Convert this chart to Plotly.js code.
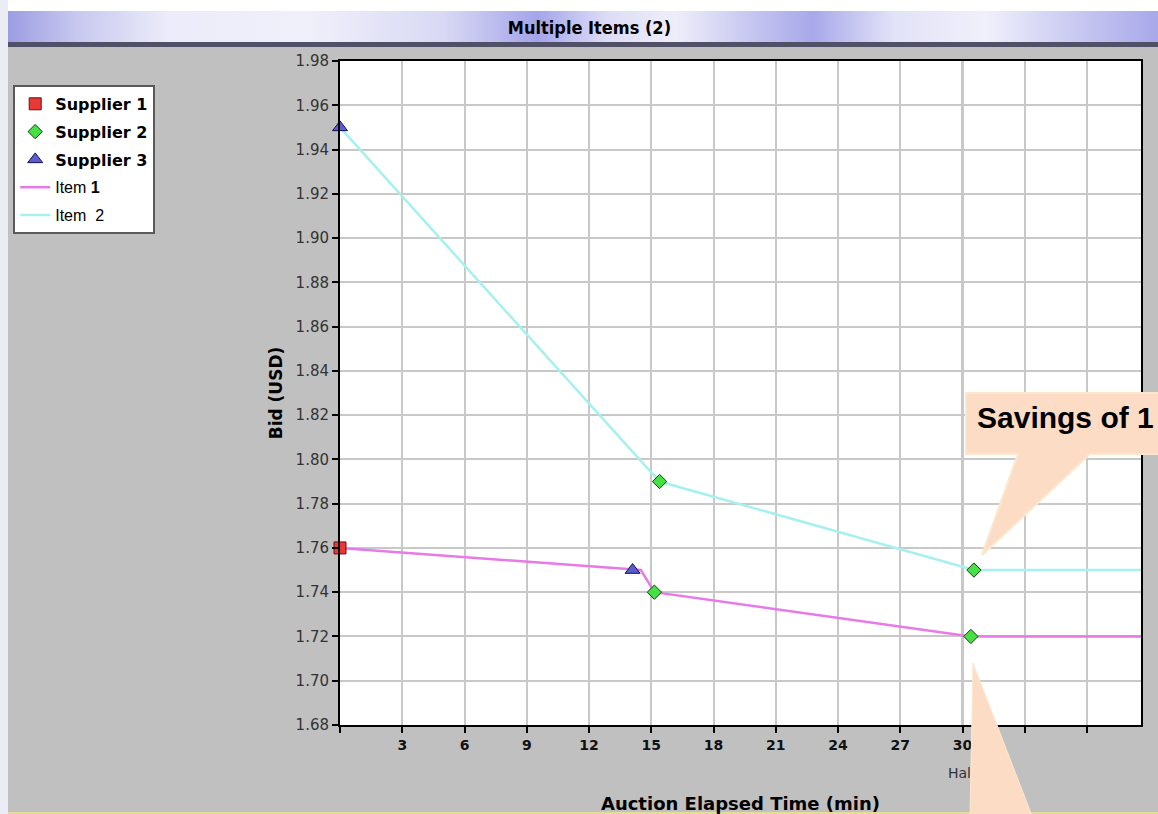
<!DOCTYPE html>
<html>
<head>
<meta charset="utf-8">
<script src="https://cdn.plot.ly/plotly-3.0.1.min.js"></script>
<style>
  html, body { margin: 0; padding: 0; background: #ffffff; }
  #wrap { position: relative; width: 1158px; height: 814px; overflow: hidden; background: #ffffff; }
  .layer { position: absolute; }
  #chart { position: absolute; left: 0; top: 0; width: 1158px; height: 814px; }
  #overlay { position: absolute; left: 0; top: 0; pointer-events: none; }
</style>
</head>
<body>
<div id="wrap">
  <div class="layer" style="left:0;top:0;width:8px;height:814px;background:#ececf4;"></div>
  <div class="layer" style="left:8px;top:11px;width:1150px;height:31px;background:linear-gradient(to right,#9c9ce2 0%,#c8c8f0 6%,#ececfa 14%,#f0f0fb 26%,#d8d8f4 38%,#a4a4ea 46%,#dcdcf6 52%,#eeeefa 58%,#c4c4f0 65%,#a8a8ea 70%,#e2e2f8 77%,#f0f0fb 85%,#c8c8f2 93%,#a8a8ea 100%);"></div>
  <div class="layer" style="left:8px;top:42px;width:1150px;height:5px;background:#505066;"></div>
  <div class="layer" style="left:8px;top:47px;width:1150px;height:765px;background:#c0c0c0;"></div>
  <div class="layer" style="left:8px;top:812px;width:1150px;height:2px;background:#e6dc9a;"></div>
  <div id="chart"></div>
  <svg id="overlay" width="1158" height="814" xmlns="http://www.w3.org/2000/svg">
    <path d="M966,393 L1170,393 L1170,454 L1090,454 L982,555 L1018,454 L966,454 Z" fill="#fddcc5" stroke="#fbe8cc" stroke-width="2"/>
    <text x="977" y="428" font-family="Liberation Sans, Arial, sans-serif" font-weight="bold" font-size="30" fill="#000000">Savings of 1</text>
    <path d="M973,663 L1032,816 L970,816 Z" fill="#fddcc5" stroke="#fbe8cc" stroke-width="1"/>
  </svg>
</div>
<script>
// ---- data ----
const supplier1X = [0];
const supplier1Y = [1.76];
const supplier2X = [15.15, 15.4, 30.4, 30.55];
const supplier2Y = [1.74, 1.79, 1.72, 1.75];
const supplier3X = [0, 14.1];
const supplier3Y = [1.95, 1.75];
const item1X = [0, 14.5, 15.15, 30.4, 38.6];
const item1Y = [1.76, 1.75, 1.74, 1.72, 1.72];
const item2X = [0, 15.4, 30.55, 38.6];
const item2Y = [1.95, 1.79, 1.75, 1.75];
const xTickVals = [0, 3, 6, 9, 12, 15, 18, 21, 24, 27, 30, 33, 36];
const xTickText = ['', '3', '6', '9', '12', '15', '18', '21', '24', '27', '30', '', ''];
const yTickVals = [1.68, 1.70, 1.72, 1.74, 1.76, 1.78, 1.80, 1.82, 1.84, 1.86, 1.88, 1.90, 1.92, 1.94, 1.96, 1.98];
const haltX = 30;
const haltLabel = 'Halt';
const chartTitle = 'Multiple Items (2)';
const xTitle = 'Auction Elapsed Time (min)';
const yTitle = 'Bid (USD)';

const itemFont = 'font-family:Liberation Sans, Arial, sans-serif;font-weight:normal';

const traces = [
  { x: item1X, y: item1Y, mode: 'lines', name: '<span style="' + itemFont + '">Item <b>1</b></span>',
    line: { color: '#e87ae8', width: 2.5 }, legendgroup: 'g4', legendrank: 4, cliponaxis: false },
  { x: item2X, y: item2Y, mode: 'lines', name: '<span style="' + itemFont + '">Item\u00a0\u00a02</span>',
    line: { color: '#a6f0f0', width: 2.5 }, legendgroup: 'g5', legendrank: 5, cliponaxis: false },
  { x: supplier1X, y: supplier1Y, mode: 'markers', name: '<b>Supplier 1</b>',
    marker: { symbol: 'square', size: 12, color: '#e83838', line: { color: '#6a1010', width: 1 } },
    legendgroup: 'g1', legendrank: 1, cliponaxis: false },
  { x: supplier2X, y: supplier2Y, mode: 'markers', name: '<b>Supplier 2</b>',
    marker: { symbol: 'diamond', size: 11, color: '#44e044', line: { color: '#1a3a1a', width: 1 } },
    legendgroup: 'g2', legendrank: 2, cliponaxis: false },
  { x: supplier3X, y: supplier3Y, mode: 'markers', name: '<b>Supplier 3</b>',
    marker: { symbol: 'triangle-up', size: 13, color: '#5c5cd0', line: { color: '#101050', width: 1 } },
    legendgroup: 'g3', legendrank: 3, cliponaxis: false }
];

const layout = {
  width: 1158, height: 814,
  margin: { l: 340, r: 17, t: 61, b: 89, pad: 0 },
  paper_bgcolor: 'rgba(0,0,0,0)',
  plot_bgcolor: '#ffffff',
  showlegend: true,
  title: {
    text: '<b>' + chartTitle + '</b>',
    font: { family: 'DejaVu Sans Condensed, DejaVu Sans, sans-serif', size: 18, color: '#000000' },
    xref: 'container', x: 0.509, xanchor: 'center',
    yref: 'container', y: 1 - 28 / 814, yanchor: 'middle'
  },
  legend: {
    x: -0.408, xanchor: 'left', y: 0.964, yanchor: 'top',
    bgcolor: '#ffffff', bordercolor: '#5a5a5a', borderwidth: 2,
    font: { family: 'DejaVu Sans, sans-serif', size: 16, color: '#000000' },
    traceorder: 'grouped', tracegroupgap: 4, itemwidth: 30
  },
  xaxis: {
    range: [0, 38.6],
    tickmode: 'array', tickvals: xTickVals, ticktext: xTickText,
    ticks: 'outside', ticklen: 6, tickwidth: 1.5, tickcolor: '#000000',
    tickfont: { family: 'DejaVu Sans, sans-serif', size: 14, color: '#111111', weight: 'bold' },
    showgrid: true, gridcolor: '#c8c8c8', gridwidth: 1.5,
    showline: true, linecolor: '#000000', linewidth: 2, mirror: true,
    zeroline: false,
    title: { text: '<b>' + xTitle + '</b>', standoff: 46,
      font: { family: 'DejaVu Sans, sans-serif', size: 18, color: '#000000' } }
  },
  yaxis: {
    range: [1.68, 1.98],
    tickmode: 'array', tickvals: yTickVals, tickformat: '.2f',
    ticks: 'outside', ticklen: 6, tickwidth: 1.5, tickcolor: '#000000',
    tickfont: { family: 'DejaVu Sans, sans-serif', size: 15, color: '#333333' },
    showgrid: true, gridcolor: '#c8c8c8', gridwidth: 1.5,
    showline: true, linecolor: '#000000', linewidth: 2, mirror: true,
    zeroline: false,
    title: { text: '<b>' + yTitle + '</b>', standoff: 9,
      font: { family: 'DejaVu Sans, sans-serif', size: 17, color: '#000000' } }
  },
  shapes: [
    { type: 'line', xref: 'x', yref: 'paper', x0: haltX, x1: haltX, y0: 0, y1: 1,
      line: { color: '#000000', width: 1.5 }, layer: 'between' }
  ],
  annotations: [
    { xref: 'x', yref: 'paper', x: haltX, y: -0.072, text: haltLabel, showarrow: false,
      xanchor: 'center', yanchor: 'middle',
      font: { family: 'DejaVu Sans, sans-serif', size: 14, color: '#333333' } }
  ]
};

Plotly.newPlot('chart', traces, layout, { displayModeBar: false, responsive: false });
</script>
</body>
</html>
